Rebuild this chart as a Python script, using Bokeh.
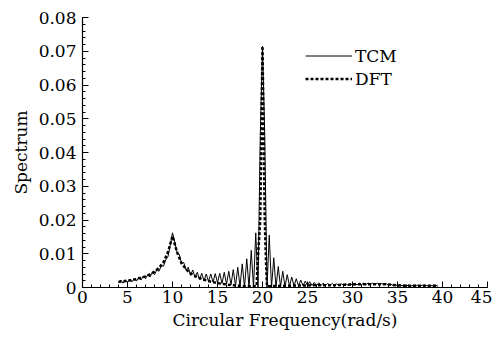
from bokeh.plotting import figure
from bokeh.models import FixedTicker, Legend, LegendItem, Range1d
from bokeh.embed import file_html
from bokeh.resources import INLINE

# ---- data ----
tcm_x = [
    4.0, 4.25, 4.5, 4.75, 5.0, 5.25, 5.5, 5.75,
    6.0, 6.25, 6.5, 6.75, 7.0, 7.25, 7.5, 7.75,
    8.0, 8.25, 8.5, 8.75, 9.0, 9.25, 9.5, 9.75,
    10.0, 10.25, 10.5, 10.75, 11.0, 11.25, 11.5, 11.75,
    12.0, 12.25, 12.5, 12.75, 13.0, 13.25, 13.5, 13.75,
    14.0, 14.25, 14.5, 14.75, 15.0, 15.25, 15.5, 15.75,
    16.0, 16.25, 16.5, 16.75, 17.0, 17.25, 17.5, 17.75,
    18.0, 18.25, 18.5, 18.75, 19.0, 19.25, 19.5, 19.75,
    20.0, 20.25, 20.5, 20.75, 21.0, 21.25, 21.5, 21.75,
    22.0, 22.25, 22.5, 22.75, 23.0, 23.25, 23.5, 23.75,
    24.0, 24.25, 24.5, 24.75, 25.0, 25.25, 25.5, 25.75,
    26.0, 26.25, 26.5, 26.75, 27.0, 27.25, 27.5, 27.75,
    28.0, 28.25, 28.5, 28.75, 29.0, 29.25, 29.5, 29.75,
    30.0, 30.25, 30.5, 30.75, 31.0, 31.25, 31.5, 31.75,
    32.0, 32.25, 32.5, 32.75, 33.0, 33.25, 33.5, 33.75,
    34.0, 34.25, 34.5, 34.75, 35.0, 35.25, 35.5, 35.75,
    36.0, 36.25, 36.5, 36.75, 37.0, 37.25, 37.5, 37.75,
    38.0, 38.25, 38.5, 38.75, 39.0, 39.25, 39.5,
]
tcm_y = [
    0.0013, 0.0022, 0.0013, 0.0023, 0.0015, 0.0025, 0.0017, 0.0027,
    0.0019, 0.0030, 0.0022, 0.0034, 0.0026, 0.0038, 0.0031, 0.0045,
    0.0038, 0.0053, 0.0048, 0.0065, 0.0063, 0.0082, 0.0092, 0.0125,
    0.0162, 0.0135, 0.0105, 0.0098, 0.0072, 0.0074, 0.0052, 0.0060,
    0.0036, 0.0052, 0.0030, 0.0045, 0.0024, 0.0042, 0.0020, 0.0040,
    0.0018, 0.0040, 0.0016, 0.0041, 0.0014, 0.0042, 0.0012, 0.0045,
    0.0010, 0.0048, 0.0008, 0.0053, 0.0005, 0.0060, 0.0003, 0.0070,
    0.0001, 0.0085, 0.0000, 0.0110, 0.0000, 0.0162, 0.0000, 0.0450,
    0.0715, 0.0450, 0.0000, 0.0155, 0.0000, 0.0088, 0.0000, 0.0062,
    0.0002, 0.0048, 0.0003, 0.0038, 0.0004, 0.0031, 0.0005, 0.0026,
    0.0005, 0.0022, 0.0005, 0.0019, 0.0006, 0.0017, 0.0006, 0.0015,
    0.0006, 0.0014, 0.0006, 0.0013, 0.0006, 0.0012, 0.0006, 0.0012,
    0.0006, 0.0011, 0.0006, 0.0011, 0.0007, 0.0011, 0.0007, 0.0011,
    0.0008, 0.0012, 0.0008, 0.0013, 0.0009, 0.0013, 0.0009, 0.0013,
    0.0009, 0.0013, 0.0009, 0.0013, 0.0008, 0.0012, 0.0008, 0.0011,
    0.0007, 0.0010, 0.0006, 0.0009, 0.0005, 0.0008, 0.0005, 0.0008,
    0.0005, 0.0007, 0.0004, 0.0007, 0.0004, 0.0007, 0.0004, 0.0007,
    0.0004, 0.0006, 0.0004, 0.0006, 0.0004, 0.0006, 0.0004,
]

dft_x = [4.0, 4.5, 5.0, 5.5, 6.0, 6.5, 7.0, 7.5, 8.0, 8.5, 9.0, 9.5, 10.0,
         10.5, 11.0, 11.5, 12.0, 12.5, 13.0, 13.5, 14.0, 14.5, 15.0, 15.5,
         16.0, 16.5, 17.0, 17.5, 18.0, 18.5, 19.0, 19.35, 19.45, 19.75, 20.0,
         20.25, 20.4, 20.5, 21.0, 22.0, 23.0, 24.0, 25.0, 26.0, 27.0, 28.0,
         29.0, 30.0, 31.0, 32.0, 33.0, 34.0, 35.0, 36.0, 37.0, 38.0, 39.0, 39.5]
dft_y = [0.0017, 0.0018, 0.0020, 0.0022, 0.0025, 0.0029, 0.0033, 0.0039, 0.0047,
         0.0058, 0.0075, 0.0105, 0.0152, 0.0105, 0.0072, 0.0054, 0.0042, 0.0034,
         0.0028, 0.0023, 0.0019, 0.0016, 0.0013, 0.0011, 0.0009, 0.0007, 0.0006,
         0.0005, 0.0004, 0.0004, 0.0004, 0.0004, 0.0070, 0.0200, 0.0715, 0.0200,
         0.0070, 0.0004, 0.0004, 0.0005, 0.0005, 0.0006, 0.0006, 0.0007, 0.0007,
         0.0007, 0.0008, 0.0009, 0.0010, 0.0010, 0.0010, 0.0009, 0.0006, 0.0005,
         0.0005, 0.0005, 0.0005, 0.0005]

x_ticks = [0, 5, 10, 15, 20, 25, 30, 35, 40, 45]
x_minor = list(range(0, 46))
y_ticks = [0, 0.01, 0.02, 0.03, 0.04, 0.05, 0.06, 0.07, 0.08]
y_labels = ["0", "0.01", "0.02", "0.03", "0.04", "0.05", "0.06", "0.07", "0.08"]
y_minor = [i * 0.002 for i in range(0, 41)]

FONT = "DejaVu Serif"
FSIZE = "17px"

p = figure(frame_width=405, frame_height=270, output_backend="svg",
           toolbar_location=None, min_border_left=82, min_border_top=17,
           min_border_right=5, min_border_bottom=40,
           x_range=Range1d(0, 45), y_range=Range1d(0, 0.08))
p.outline_line_color = None
p.xgrid.visible = False
p.ygrid.visible = False
p.background_fill_color = "white"
p.border_fill_color = "white"

r_tcm = p.line(tcm_x, tcm_y, line_color="black", line_width=1)
r_dft = p.line(dft_x, dft_y, line_color="black", line_width=2.5, line_dash="3 2")

for ax in (p.xaxis[0], p.yaxis[0]):
    ax.axis_line_color = "black"
    ax.axis_line_width = 1.2
    ax.major_tick_in = 6
    ax.major_tick_out = 0
    ax.minor_tick_in = 3
    ax.minor_tick_out = 0
    ax.major_tick_line_color = "black"
    ax.minor_tick_line_color = "black"
    ax.major_label_text_font = FONT
    ax.major_label_text_font_size = FSIZE
    ax.major_label_text_color = "black"
    ax.axis_label_text_font = FONT
    ax.axis_label_text_font_size = FSIZE
    ax.axis_label_text_font_style = "normal"
    ax.axis_label_text_color = "black"

p.xaxis.ticker = FixedTicker(ticks=x_ticks, minor_ticks=x_minor)
p.yaxis.ticker = FixedTicker(ticks=y_ticks, minor_ticks=y_minor)
p.yaxis.major_label_overrides = {t: l for t, l in zip(y_ticks, y_labels)}
p.xaxis.axis_label = "Circular Frequency(rad/s)"
p.yaxis.axis_label = "Spectrum"
p.xaxis.major_label_standoff = 3
p.xaxis.axis_label_standoff = 4
p.yaxis.major_label_standoff = 6
p.yaxis.axis_label_standoff = 5

legend = Legend(items=[LegendItem(label="TCM", renderers=[r_tcm]),
                       LegendItem(label="DFT", renderers=[r_dft])],
                location=(223, 197), background_fill_alpha=0,
                border_line_color=None, padding=0, margin=0, spacing=0,
                glyph_width=47, glyph_height=23, label_standoff=3,
                label_text_font=FONT, label_text_font_size=FSIZE,
                label_text_color="black", label_height=23)
p.add_layout(legend)

open("out.html", "w").write(file_html(p, INLINE))
